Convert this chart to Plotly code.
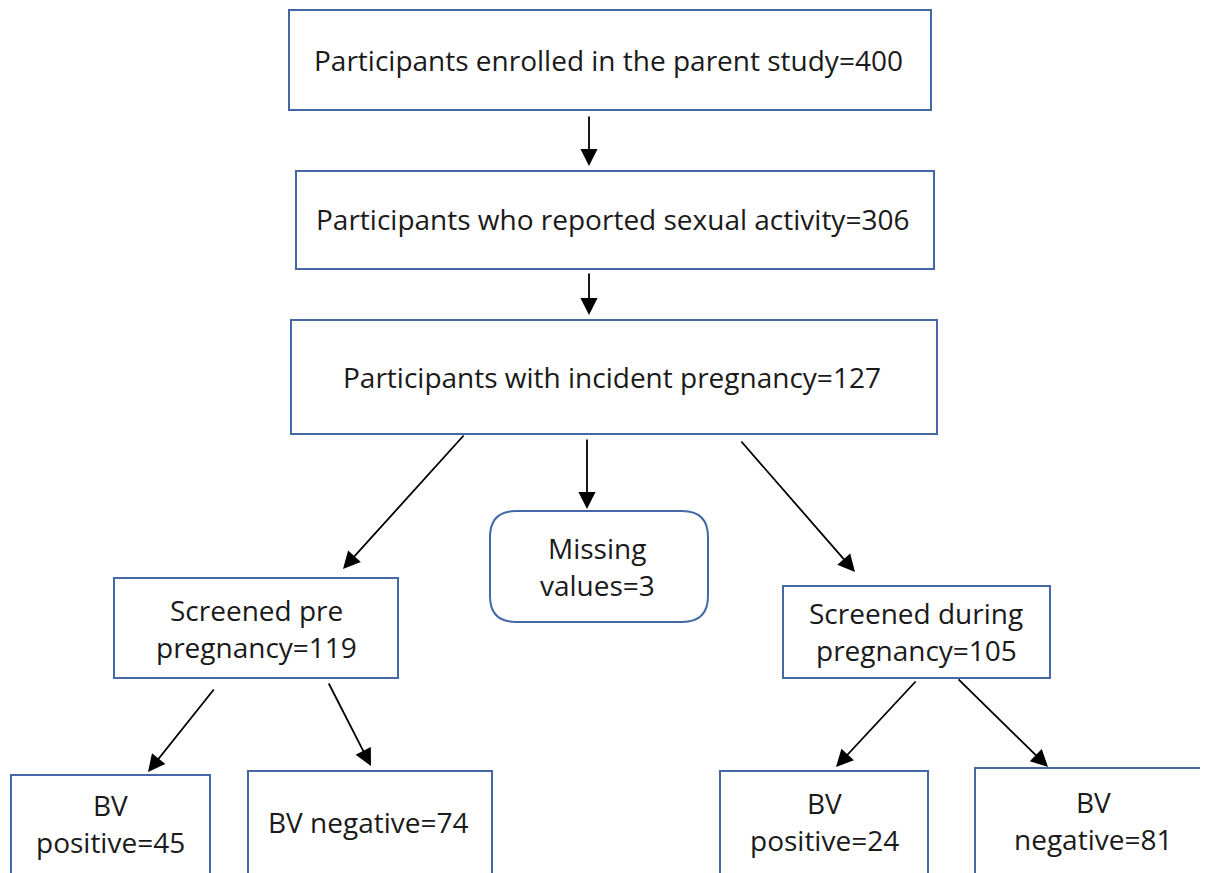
import plotly.graph_objects as go

# Box labels (text of each node, lines split by <br>)
labels = [
    "Participants enrolled in the parent study=400",
    "Participants who reported sexual activity=306",
    "Participants with incident pregnancy=127",
    "Missing<br>values=3",
    "Screened pre<br>pregnancy=119",
    "Screened during<br>pregnancy=105",
    "BV<br>positive=45",
    "BV negative=74",
    "BV<br>positive=24",
    "BV<br>negative=81",
]

# Box geometry in page pixels: x0, x1, y0, y1
box_x0 = [289, 296, 291, 490, 114, 783, 11, 248, 720, 975]
box_x1 = [931, 934, 937, 708, 398, 1050, 210, 492, 928, 1225]
box_y0 = [10, 171, 320, 511, 578, 586, 775, 771, 771, 768]
box_y1 = [110, 269, 434, 622, 678, 678, 895, 895, 895, 895]
text_y = [60, 219, 377, 566, 628, 631, 823, 822, 821, 820]
text_x = [608, 612, 612, 597, 256, 916, 110, 368, 824, 1093]
rounded = [False, False, False, True, False, False, False, False, False, False]
line_gap = 37

# Arrows: tail (x, y) -> head (x, y)
arrow_tail_x = [589, 589, 465, 587, 740, 215, 328, 917, 957]
arrow_tail_y = [115, 272, 434, 438, 440, 688, 682, 680, 678]
arrow_head_x = [589, 589, 343, 587, 855, 148, 371, 836, 1048]
arrow_head_y = [166, 315, 569, 509, 572, 772, 766, 767, 767]

border = "#4468A6"
off = 8  # page body margin in the browser

fig = go.Figure()

shapes = []
for x0, x1, y0, y1, rnd in zip(box_x0, box_x1, box_y0, box_y1, rounded):
    if rnd:
        r = 26
        path = (f"M {x0 + r},{y0} L {x1 - r},{y0} Q {x1},{y0} {x1},{y0 + r} "
                f"L {x1},{y1 - r} Q {x1},{y1} {x1 - r},{y1} "
                f"L {x0 + r},{y1} Q {x0},{y1} {x0},{y1 - r} "
                f"L {x0},{y0 + r} Q {x0},{y0} {x0 + r},{y0} Z")
        shapes.append(dict(type="path", path=path, xref="x", yref="y",
                           line=dict(color=border, width=2)))
    else:
        shapes.append(dict(type="rect", x0=x0, x1=x1, y0=y0, y1=y1,
                           xref="x", yref="y",
                           line=dict(color=border, width=2)))

annotations = []
for lab, tx, ty in zip(labels, text_x, text_y):
    lines = lab.split("<br>")
    n = len(lines)
    for i, ln in enumerate(lines):
        yy = ty + (i - (n - 1) / 2) * line_gap
        annotations.append(dict(x=tx, y=yy, xref="x", yref="y", text=ln,
                                showarrow=False, align="center",
                                font=dict(family="Open Sans", size=28,
                                          color="#1a1a1a")))

for tx, ty, hx, hy in zip(arrow_tail_x, arrow_tail_y, arrow_head_x, arrow_head_y):
    annotations.append(dict(x=hx, y=hy, ax=tx, ay=ty, xref="x", yref="y",
                            axref="x", ayref="y", text="", showarrow=True,
                            arrowhead=2, arrowsize=1.9, arrowwidth=1.8,
                            arrowcolor="black"))

fig.update_layout(
    width=1208, height=873,
    margin=dict(l=0, r=0, t=0, b=0),
    paper_bgcolor="white", plot_bgcolor="white",
    xaxis=dict(range=[off, 1208 + off], visible=False, fixedrange=True),
    yaxis=dict(range=[873 + off, off], visible=False, fixedrange=True),
    shapes=shapes, annotations=annotations,
    showlegend=False,
)

fig.write_html("out.html")
